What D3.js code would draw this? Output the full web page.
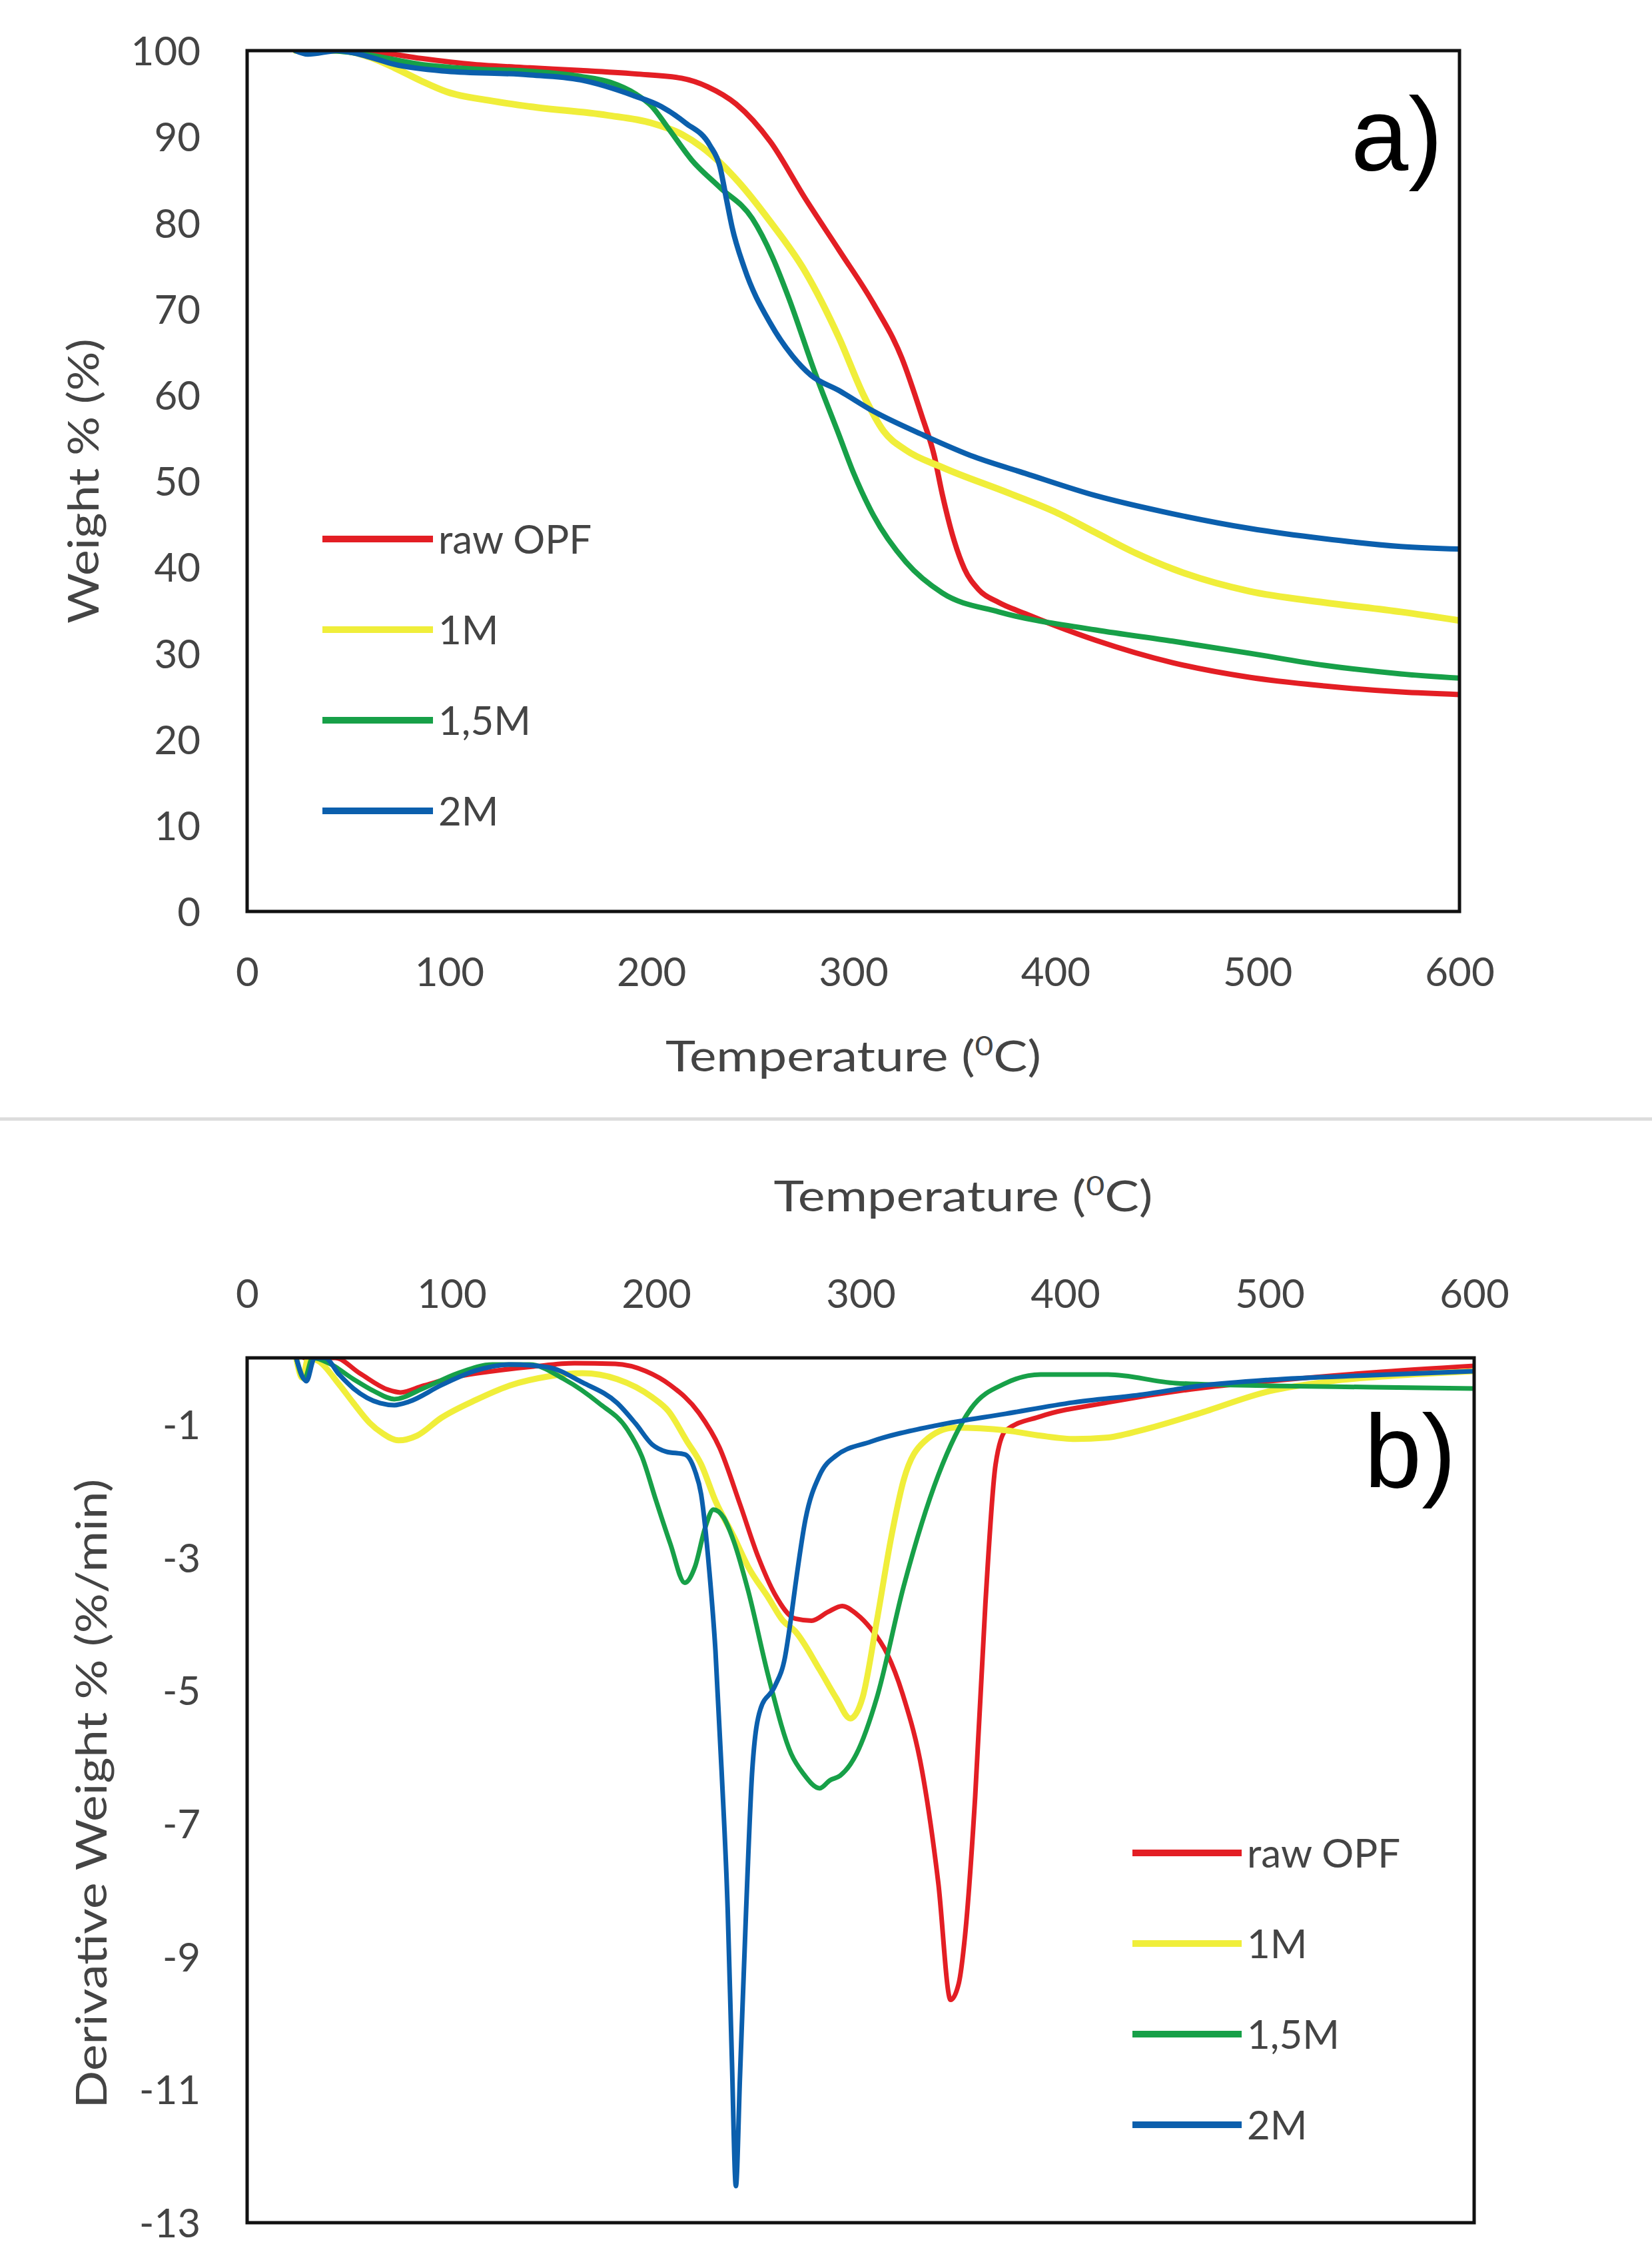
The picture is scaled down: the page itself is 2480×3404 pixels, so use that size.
<!DOCTYPE html>
<html>
<head>
<meta charset="utf-8">
<script src="https://cdn.jsdelivr.net/npm/d3@7"></script>
<style>
  html, body { margin: 0; padding: 0; background: #ffffff; }
  svg { display: block; }
  text { font-family: Lato, "Open Sans", sans-serif; fill: #444444; }
</style>
</head>
<body>
<svg id="chart" width="2480" height="3404"></svg>
<script>
// ---------------- DATA ----------------
const seriesNames = ["raw OPF", "1M", "1,5M", "2M"];
const seriesColors = ["#e31e24", "#f0ee3a", "#17a048", "#0b5fad"];

// a) TG curves: [temperature °C, weight %]
const tgRaw = [[25,100],[50,100],[65,99.8],[86,99.1],[112,98.4],[140,98.0],[165,97.7],[192,97.3],[215,96.8],[228,95.8],[242,93.8],[259,89.4],[276,82.9],[293,76.8],[310,70.6],[324,64.3],[334,57.5],[340,53],[344,48.5],[350,43],[355,39.8],[362,37.4],[372,35.9],[385,34.6],[400,33.2],[420,31.5],[458,28.9],[496,27.2],[533,26.2],[571,25.5],[600,25.2]];
const tg1M = [[24,100],[47,100],[60,99.3],[73,98],[86,96.5],[99,95.2],[120,94.2],[140,93.5],[178,92.5],[200,91.6],[215,90.3],[225,88.8],[234,87],[243,84.8],[259,80.1],[276,74.4],[293,66.6],[305,60],[315,55.8],[326,53.6],[344,51.6],[377,48.6],[400,46.4],[420,44.0],[440,41.6],[458,39.8],[496,37.2],[533,35.9],[571,34.8],[600,33.8]];
const tg15M = [[24,100],[40,100],[60,99.5],[86,98.4],[110,97.9],[140,97.6],[165,97],[180,96.3],[192,95],[200,93.6],[209,90.8],[220,87.3],[234,84.1],[250,80.5],[260,76],[268,71.3],[281,62.6],[293,55.3],[300,51],[310,46],[326,40.6],[344,37],[372,34.8],[420,32.7],[458,31.4],[496,30],[533,28.6],[571,27.6],[600,27.1]];
const tg2M = [[24,100],[30,99.6],[45,100],[60,99.3],[73,98.4],[99,97.6],[139,97.2],[165,96.6],[191,94.8],[205,93.5],[217,91.6],[229,89],[234,86.5],[237,83],[240,79.5],[246,74.8],[259,68.3],[270,64.5],[279,62.3],[293,60.5],[310,58.1],[335,55.3],[360,52.8],[385,50.9],[420,48.3],[458,46.2],[496,44.5],[533,43.3],[571,42.4],[600,42.1]];

// b) DTG curves: [temperature °C, derivative weight %/min]
const dtgRaw = [[28,0],[43,0],[55,-0.23],[69,-0.48],[75,-0.52],[86,-0.42],[103,-0.28],[120,-0.2],[140,-0.13],[160,-0.08],[180,-0.09],[195,-0.2],[207,-0.41],[221,-0.83],[231,-1.35],[241,-2.2],[250,-3.0],[258,-3.55],[268,-3.92],[276,-3.95],[284,-3.82],[291,-3.73],[298,-3.85],[305,-4.07],[313,-4.45],[321,-5.1],[330,-6.2],[338,-7.9],[344,-9.65],[348,-9.4],[351,-8.7],[356,-6.6],[361,-3.7],[366,-1.6],[371,-1.09],[388,-0.88],[421,-0.67],[465,-0.46],[500,-0.35],[550,-0.22],[600,-0.12]];
const dtg1M = [[24,0],[27,-0.3],[30,0],[35,-0.05],[45,-0.4],[52,-0.68],[60,-0.98],[66,-1.13],[74,-1.24],[83,-1.17],[95,-0.9],[112,-0.63],[129,-0.41],[147,-0.28],[164,-0.23],[181,-0.32],[198,-0.59],[206,-0.8],[215,-1.25],[222,-1.6],[229,-2.15],[238,-2.69],[245,-3.14],[255,-3.61],[262,-3.95],[268,-4.11],[280,-4.69],[288,-5.11],[295,-5.42],[301,-5.1],[308,-3.94],[315,-2.69],[321,-1.84],[331,-1.26],[346,-1.05],[371,-1.09],[388,-1.17],[405,-1.22],[420,-1.2],[437,-1.09],[465,-0.84],[500,-0.5],[530,-0.35],[560,-0.27],[600,-0.2]];
const dtg15M = [[24,0],[28,-0.32],[32,0],[40,-0.08],[52,-0.32],[62,-0.5],[72,-0.62],[86,-0.46],[103,-0.23],[120,-0.1],[138,-0.1],[155,-0.32],[172,-0.68],[186,-1.08],[193,-1.48],[200,-2.15],[207,-2.8],[214,-3.38],[219,-3.14],[224,-2.55],[228,-2.28],[233,-2.4],[238,-2.76],[245,-3.5],[255,-4.8],[266,-5.95],[272,-6.25],[280,-6.47],[285,-6.35],[290,-6.28],[298,-5.95],[308,-5.1],[321,-3.44],[338,-1.76],[354,-0.76],[371,-0.38],[388,-0.25],[421,-0.25],[454,-0.38],[500,-0.42],[550,-0.44],[600,-0.46]];
const dtg2M = [[24,0],[29,-0.35],[33,0],[38,0],[45,-0.25],[52,-0.46],[65,-0.68],[72,-0.71],[79,-0.66],[95,-0.41],[112,-0.19],[129,-0.1],[147,-0.14],[164,-0.37],[181,-0.68],[190,-0.99],[198,-1.3],[205,-1.41],[214,-1.45],[219,-1.7],[222,-2.05],[226,-3.2],[229,-4.4],[232,-6.2],[235,-8.3],[237,-10.5],[239,-12.45],[241,-10.8],[244,-8.3],[247,-6.2],[251,-5.28],[258,-4.94],[263,-4.5],[266,-3.9],[268,-3.44],[273,-2.43],[280,-1.76],[288,-1.47],[305,-1.26],[338,-1.01],[371,-0.84],[404,-0.67],[438,-0.55],[466,-0.42],[500,-0.33],[550,-0.26],[600,-0.2]];

const tempTicks = [0, 100, 200, 300, 400, 500, 600];
const weightTicks = [0, 10, 20, 30, 40, 50, 60, 70, 80, 90, 100];
const derivTicks = [-1, -3, -5, -7, -9, -11, -13];

// ---------------- DRAW ----------------
const svg = d3.select("#chart");
const FONT = 60;

function drawPanel(opts) {
  const { L, R, T, B, xDom, yDom, series, widths, clipId } = opts;
  const x = d3.scaleLinear().domain(xDom).range([L, R]);
  const y = d3.scaleLinear().domain(yDom).range([B, T]);

  svg.append("clipPath").attr("id", clipId)
    .append("rect").attr("x", L).attr("y", T).attr("width", R - L).attr("height", B - T);

  const line = d3.line().x(d => x(d[0])).y(d => y(d[1])).curve(d3.curveMonotoneX);
  const g = svg.append("g").attr("clip-path", `url(#${clipId})`);
  series.forEach((s, i) => {
    g.append("path").datum(s)
      .attr("d", line)
      .attr("fill", "none")
      .attr("stroke", seriesColors[i])
      .attr("stroke-width", widths[i])
      .attr("stroke-linejoin", "round")
      .attr("stroke-linecap", "round");
  });

  svg.append("rect").attr("x", L).attr("y", T).attr("width", R - L).attr("height", B - T)
    .attr("fill", "none").attr("stroke", "#111").attr("stroke-width", 5);
  return { x, y };
}

function styleAxis(sel) {
  sel.select(".domain").remove();
  sel.selectAll(".tick line").remove();
  sel.selectAll("text")
    .style("font-family", "Lato, 'Open Sans', sans-serif")
    .style("font-size", FONT + "px")
    .attr("fill", "#444444");
}

function drawLegend(lx1, lx2, ly0, step) {
  seriesNames.forEach((name, i) => {
    const yy = ly0 + i * step;
    svg.append("line").attr("x1", lx1).attr("x2", lx2).attr("y1", yy).attr("y2", yy)
      .attr("stroke", seriesColors[i]).attr("stroke-width", 10);
    svg.append("text").attr("x", lx2 + 8).attr("y", yy).attr("dy", "0.36em")
      .style("font-size", FONT + "px").text(name);
  });
}

function tempTitle(cx, baseline, len) {
  const t = svg.append("text").attr("x", cx).attr("y", baseline)
    .attr("text-anchor", "middle")
    .attr("textLength", len).attr("lengthAdjust", "spacingAndGlyphs")
    .style("font-size", "64px");
  t.append("tspan").text("Temperature  (");
  t.append("tspan").attr("dy", -24).style("font-size", "40px").text("0");
  t.append("tspan").attr("dy", 24).text("C)");
}

// ----- panel a) -----
const A = drawPanel({ L: 371, R: 2191, T: 76, B: 1368, xDom: [0, 600], yDom: [0, 100],
  series: [tgRaw, tg1M, tg15M, tg2M], widths: [8, 10, 8, 8], clipId: "clipA" });

svg.append("g").attr("transform", "translate(371,0)")
  .call(d3.axisLeft(A.y).tickValues(weightTicks).tickSize(0).tickPadding(70))
  .call(styleAxis)
  .selectAll("text").attr("dy", "0.36em");

svg.append("g").attr("transform", "translate(0,1368)")
  .call(d3.axisBottom(A.x).tickValues(tempTicks).tickSize(0))
  .call(styleAxis)
  .selectAll("text").attr("y", 112).attr("dy", 0);

tempTitle(1281, 1608, 564);

svg.append("text").attr("transform", "translate(148,722) rotate(-90)")
  .attr("text-anchor", "middle")
  .attr("textLength", 428).attr("lengthAdjust", "spacingAndGlyphs")
  .style("font-size", "64px").text("Weight % (%)");

drawLegend(484, 650, 809, 136);

svg.append("text").attr("x", 2028).attr("y", 255)
  .style("font-family", "'Liberation Sans', Arial, sans-serif")
  .style("font-size", "155px").style("fill", "#000").text("a)");

// separator
svg.append("rect").attr("x", 0).attr("y", 1677).attr("width", 2480).attr("height", 5).attr("fill", "#dcdcdc");

// ----- panel b) -----
const Bp = drawPanel({ L: 371, R: 2213, T: 2038, B: 3336, xDom: [0, 600], yDom: [-13, 0],
  series: [dtgRaw, dtg1M, dtg15M, dtg2M], widths: [7, 9, 7, 7], clipId: "clipB" });

svg.append("g").attr("transform", "translate(371,0)")
  .call(d3.axisLeft(Bp.y).tickValues(derivTicks).tickSize(0).tickPadding(70).tickFormat(d => "-" + Math.abs(d)))
  .call(styleAxis)
  .selectAll("text").attr("dy", "0.36em");

svg.append("g").attr("transform", "translate(0,2038)")
  .call(d3.axisTop(Bp.x).tickValues(tempTicks).tickSize(0))
  .call(styleAxis)
  .selectAll("text").attr("y", -75).attr("dy", 0);

tempTitle(1446, 1818, 569);

svg.append("text").attr("transform", "translate(160,2692) rotate(-90)")
  .attr("text-anchor", "middle")
  .attr("textLength", 945).attr("lengthAdjust", "spacingAndGlyphs")
  .style("font-size", "64px").text("Derivative Weight % (%/min)");

drawLegend(1700, 1864, 2781, 136);

svg.append("text").attr("x", 2048).attr("y", 2232)
  .style("font-family", "'Liberation Sans', Arial, sans-serif")
  .style("font-size", "155px").style("fill", "#000").text("b)");
</script>
</body>
</html>
